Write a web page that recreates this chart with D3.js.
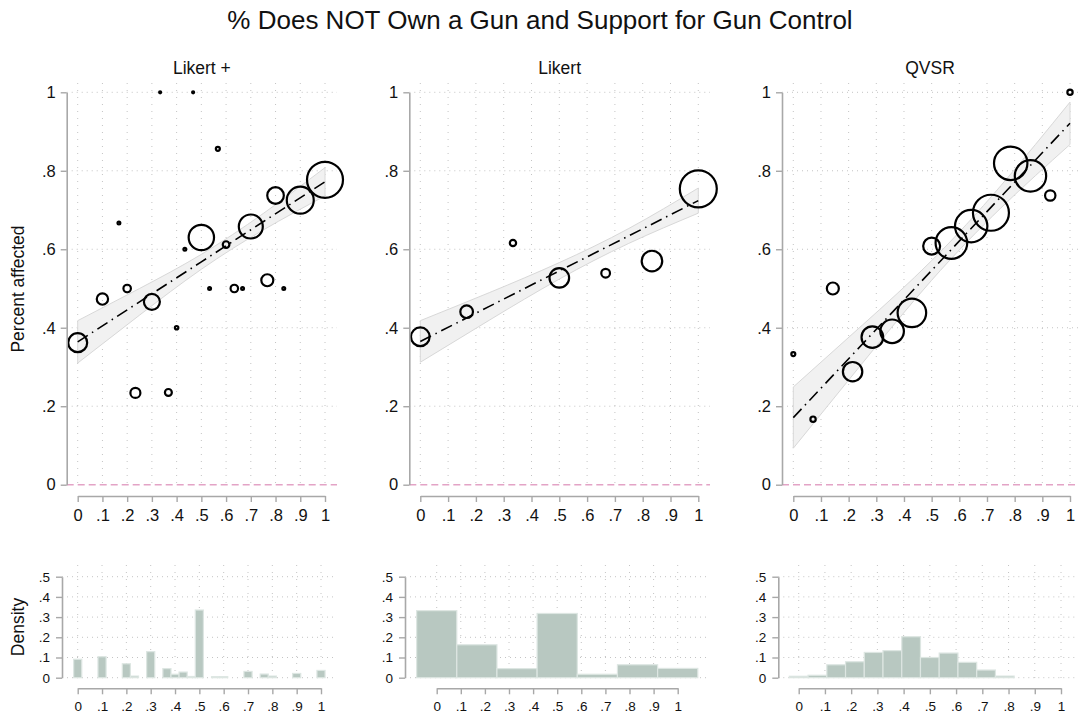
<!DOCTYPE html>
<html><head><meta charset="utf-8">
<script src="https://cdn.jsdelivr.net/npm/d3@7"></script>
<style>
body{margin:0;background:#fff}
text{font-family:"Liberation Sans",Arial,Helvetica,sans-serif;fill:#111}
</style>
</head><body>
<svg id="c" width="1078" height="717"></svg>
<script>
// ---------------- data ----------------
const chartTitle = "% Does NOT Own a Gun and Support for Gun Control";
const panelTitles = ["Likert +", "Likert", "QVSR"];
const yAxisTitle = "Percent affected";
const histAxisTitle = "Density";

const xTickVals = [0, .1, .2, .3, .4, .5, .6, .7, .8, .9, 1];
const xTickLabels = ["0", ".1", ".2", ".3", ".4", ".5", ".6", ".7", ".8", ".9", "1"];
const yTickVals = [0, .2, .4, .6, .8, 1];
const yTickLabels = ["0", ".2", ".4", ".6", ".8", "1"];
const histTickVals = [0, .1, .2, .3, .4, .5];
const histTickLabels = ["0", ".1", ".2", ".3", ".4", ".5"];

// Likert + scatter (x, share, weight)
const likertPlusX = [0, .1, .1667, .2, .2333, .3, .3333, .3667, .4, .4333, .4667, .5, .5333, .5667, .6, .6333, .6667, .7, .7667, .8, .8333, .9, 1];
const likertPlusY = [.362, .473, .667, .5, .234, .466, 1, .235, .4, .6, 1, .63, .5, .856, .612, .5, .5, .658, .521, .737, .5, .725, .777];
const likertPlusW = [90, 32, 2, 14, 25, 64, 1, 12, 3, 2, 1, 161, 2, 4, 11, 14, 2, 144, 36, 69, 2, 182, 324];

// Likert scatter
const likertX = [0, .1667, .3333, .5, .6667, .8333, 1];
const likertY = [.377, .441, .616, .527, .539, .570, .754];
const likertW = [87, 40, 10, 96, 19, 106, 342];

// QVSR scatter
const qvsrX = [0, .0714, .1429, .2143, .2857, .3571, .4286, .5, .5714, .6429, .7143, .7857, .8571, .9286, 1];
const qvsrY = [.333, .167, .5, .288, .376, .391, .438, .608, .616, .659, .693, .819, .787, .737, 1];
const qvsrW = [4, 7, 36, 94, 117, 139, 204, 72, 250, 262, 324, 279, 246, 27, 7];

// linear fits with confidence band
const fitX = [0, .25, .5, .75, 1];
const likertPlusFit = [.364, .466, .568, .670, .772];
const likertPlusLo = [.310, .432, .549, .649, .736];
const likertPlusHi = [.418, .500, .587, .691, .808];
const likertFit = [.365, .455, .545, .634, .724];
const likertLo = [.312, .420, .524, .615, .692];
const likertHi = [.418, .490, .566, .653, .756];
const qvsrFit = [.171, .3585, .546, .7335, .921];
const qvsrLo = [.093, .310, .521, .705, .867];
const qvsrHi = [.249, .407, .571, .762, .975];

// histograms (bin centre, density, bin width)
const likertPlusHistX = [0, .1, .2, .2333, .3, .3667, .4, .4333, .4667, .5, .5667, .6, .7, .7667, .8, .9, 1];
const likertPlusHistD = [.091, .104, .069, .008, .129, .045, .017, .028, .006, .335, .005, .005, .031, .018, .008, .021, .036];
const likertPlusBin = 1 / 30;
const likertHistX = [0, .1667, .3333, .5, .6667, .8333, 1];
const likertHistD = [.332, .163, .045, .318, .017, .064, .046];
const likertBin = 1 / 6;
const qvsrHistX = [0, .0714, .1429, .2143, .2857, .3571, .4286, .5, .5714, .6429, .7143, .7857];
const qvsrHistD = [.007, .012, .064, .079, .125, .134, .203, .100, .122, .076, .038, .008];
const qvsrBin = 1 / 14;

// ---------------- layout ----------------
const svg = d3.select("#c");
svg.append("rect").attr("width", 1078).attr("height", 717).attr("fill", "#fff");

const AXIS = "#a8a8a8", GRID = "#c4c4c4";
const topCfg = [
  {ax: 66.7, x0: 77.7, x1: 325, right: 337},
  {ax: 409.3, x0: 420.3, x1: 698.3, right: 710},
  {ax: 782, x0: 793.3, x1: 1070, right: 1078}
];
const histCfg = [
  {ax: 62, x0: 77.7, x1: 321, right: 335},
  {ax: 405, x0: 436.7, x1: 677.7, right: 710},
  {ax: 778.3, x0: 798.7, x1: 1061, right: 1076}
];
const topY = d3.scaleLinear().domain([0, 1]).range([484.7, 92.3]);
const histY = d3.scaleLinear().domain([0, .5]).range([677.7, 576.7]);
const rScale = d3.scaleSqrt().domain([0, 400]).range([0, 20]);

svg.append("text").attr("x", 540).attr("y", 29).attr("text-anchor", "middle")
  .style("font-size", "26px").text(chartTitle);

function styleAxis(g, fs) {
  g.select(".domain").attr("stroke", AXIS).attr("stroke-width", 1.6);
  g.selectAll(".tick line").attr("stroke", AXIS).attr("stroke-width", 1.4);
  g.selectAll(".tick text").style("font-size", fs + "px").attr("fill", "#111")
    .style("font-family", '"Liberation Sans",Arial,sans-serif');
}

const scatter = [
  [likertPlusX, likertPlusY, likertPlusW, likertPlusFit, likertPlusLo, likertPlusHi],
  [likertX, likertY, likertW, likertFit, likertLo, likertHi],
  [qvsrX, qvsrY, qvsrW, qvsrFit, qvsrLo, qvsrHi]
];
const hists = [
  [likertPlusHistX, likertPlusHistD, likertPlusBin],
  [likertHistX, likertHistD, likertBin],
  [qvsrHistX, qvsrHistD, qvsrBin]
];

scatter.forEach((s, i) => {
  const c = topCfg[i];
  const [xs, ys, ws, fit, lo, hi] = s;
  const x = d3.scaleLinear().domain([0, 1]).range([c.x0, c.x1]);
  const g = svg.append("g");
  // grid
  g.selectAll(".vg").data(xTickVals).join("line")
    .attr("x1", d => x(d)).attr("x2", d => x(d)).attr("y1", 83).attr("y2", topY(0))
    .attr("stroke", GRID).attr("stroke-width", 1).attr("stroke-dasharray", "1,6");
  g.selectAll(".hg").data(yTickVals.filter(v => v > 0)).join("line")
    .attr("x1", c.ax).attr("x2", c.right).attr("y1", d => topY(d)).attr("y2", d => topY(d))
    .attr("stroke", GRID).attr("stroke-width", 1).attr("stroke-dasharray", "1,4");
  // zero reference line
  g.append("line").attr("x1", c.ax).attr("x2", c.right).attr("y1", topY(0)).attr("y2", topY(0))
    .attr("stroke", "#e3a3c6").attr("stroke-width", 1.6).attr("stroke-dasharray", "7,4");
  // band
  const pts = fitX.map((v, k) => ({x: v, f: fit[k], lo: lo[k], hi: hi[k]}));
  g.append("path").datum(pts)
    .attr("d", d3.area().x(d => x(d.x)).y0(d => topY(d.lo)).y1(d => topY(d.hi)).curve(d3.curveNatural))
    .attr("fill", "#f1f1f1").attr("stroke", "#d8d8d8").attr("stroke-width", 1);
  // circles
  const pd = xs.map((v, k) => ({x: v, y: ys[k], w: ws[k]}));
  g.selectAll("circle").data(pd).join("circle")
    .attr("cx", d => x(d.x)).attr("cy", d => topY(d.y)).attr("r", d => rScale(d.w))
    .attr("fill", "none").attr("stroke", "#000").attr("stroke-width", 2.2);
  // fit line
  g.append("path").datum(pts)
    .attr("d", d3.line().x(d => x(d.x)).y(d => topY(d.f)))
    .attr("fill", "none").attr("stroke", "#000").attr("stroke-width", 1.6)
    .attr("stroke-dasharray", "12,5,1.5,5");
  // axes
  const ya = svg.append("g").attr("transform", `translate(${c.ax},0)`)
    .call(d3.axisLeft(topY).tickValues(yTickVals).tickFormat((d, k) => yTickLabels[k])
      .tickSize(6).tickSizeOuter(0).tickPadding(5));
  styleAxis(ya, 16.5);
  const xa = svg.append("g").attr("transform", `translate(0,496)`)
    .call(d3.axisBottom(x).tickValues(xTickVals).tickFormat((d, k) => xTickLabels[k])
      .tickSize(6).tickSizeOuter(0).tickPadding(7));
  styleAxis(xa, 16.5);
  // panel title
  svg.append("text").attr("x", (c.ax + c.right) / 2).attr("y", 74).attr("text-anchor", "middle")
    .style("font-size", "17.5px").text(panelTitles[i]);
});

hists.forEach((h, i) => {
  const c = histCfg[i];
  const [hx, hd, bw] = h;
  const x = d3.scaleLinear().domain([0, 1]).range([c.x0, c.x1]);
  const g = svg.append("g");
  g.selectAll(".vg").data(xTickVals).join("line")
    .attr("x1", d => x(d)).attr("x2", d => x(d)).attr("y1", 565).attr("y2", 684)
    .attr("stroke", GRID).attr("stroke-width", 1).attr("stroke-dasharray", "1,6");
  g.selectAll(".hg").data(histTickVals).join("line")
    .attr("x1", c.ax).attr("x2", c.right).attr("y1", d => histY(d)).attr("y2", d => histY(d))
    .attr("stroke", GRID).attr("stroke-width", 1).attr("stroke-dasharray", "1,4");
  const bd = hx.map((v, k) => ({x: v, d: hd[k]}));
  g.selectAll("rect").data(bd).join("rect")
    .attr("x", d => x(d.x - bw / 2)).attr("width", d => x(d.x + bw / 2) - x(d.x - bw / 2))
    .attr("y", d => histY(d.d)).attr("height", d => histY(0) - histY(d.d))
    .attr("fill", "#b8c8c1").attr("stroke", "#dde6e2").attr("stroke-width", 1.2);
  const ya = svg.append("g").attr("transform", `translate(${c.ax},0)`)
    .call(d3.axisLeft(histY).tickValues(histTickVals).tickFormat((d, k) => histTickLabels[k])
      .tickSize(6).tickSizeOuter(0).tickPadding(6));
  styleAxis(ya, 13.5);
  const xa = svg.append("g").attr("transform", `translate(0,688.3)`)
    .call(d3.axisBottom(x).tickValues(xTickVals).tickFormat((d, k) => xTickLabels[k])
      .tickSize(6).tickSizeOuter(0).tickPadding(7));
  styleAxis(xa, 13.5);
});

svg.append("text").attr("transform", "translate(24,289) rotate(-90)").attr("text-anchor", "middle")
  .style("font-size", "17.5px").text(yAxisTitle);
svg.append("text").attr("transform", "translate(24,627) rotate(-90)").attr("text-anchor", "middle")
  .style("font-size", "17.5px").text(histAxisTitle);
</script>
</body></html>
